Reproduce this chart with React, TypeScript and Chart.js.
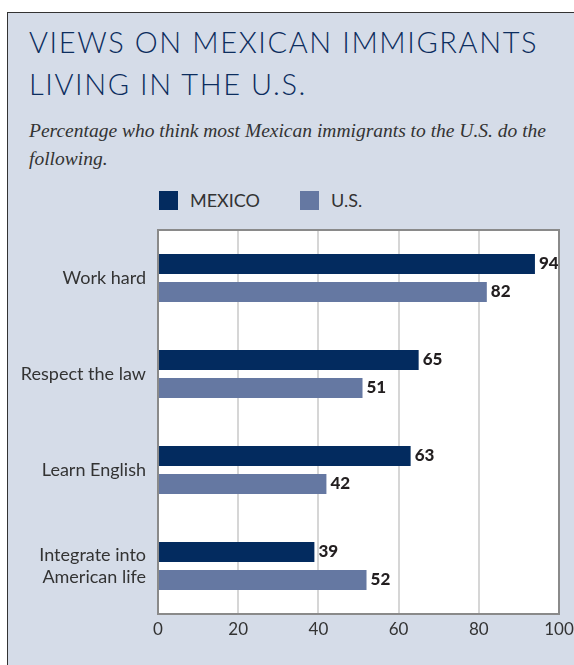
import React, { useEffect, useRef } from "react";
import { Chart, registerables } from "chart.js";

Chart.register(...registerables);

const categories: (string | string[])[] = [
  "Work hard",
  "Respect the law",
  "Learn English",
  ["Integrate into", "American life"],
];
const mexicoValues = [94, 65, 63, 39];
const usValues = [82, 51, 42, 52];
const seriesNames = ["MEXICO", "U.S."];
const xTicks = [0, 20, 40, 60, 80, 100];

const MEXICO_COLOR = "#032b5f";
const US_COLOR = "#6578a2";
const SANS = "Lato, 'Noto Sans', sans-serif";

const plotDecor = {
  id: "plotDecor",
  beforeDraw(chart: any) {
    const { ctx, chartArea: a } = chart;
    ctx.save();
    ctx.fillStyle = "#ffffff";
    ctx.fillRect(a.left, a.top, a.right - a.left, a.bottom - a.top);
    ctx.restore();
  },
  afterDraw(chart: any) {
    const { ctx, chartArea: a } = chart;
    ctx.save();
    ctx.strokeStyle = "#8a8a8a";
    ctx.lineWidth = 2;
    ctx.strokeRect(a.left, a.top, a.right - a.left, a.bottom - a.top);
    ctx.restore();
  },
  afterDatasetsDraw(chart: any) {
    const { ctx } = chart;
    ctx.save();
    ctx.font = `900 17px ${SANS}`;
    ctx.fillStyle = "#231f20";
    ctx.textBaseline = "middle";
    ctx.textAlign = "left";
    chart.data.datasets.forEach((ds: any, di: number) => {
      const meta = chart.getDatasetMeta(di);
      meta.data.forEach((bar: any, i: number) => {
        ctx.fillText(String(ds.data[i]), bar.x + 4, bar.y);
      });
    });
    ctx.restore();
  },
};

function BarChart() {
  const ref = useRef<HTMLCanvasElement>(null);
  useEffect(() => {
    if (!ref.current) return;
    const chart = new Chart(ref.current, {
      type: "bar",
      data: {
        labels: categories,
        datasets: [
          {
            label: seriesNames[0],
            data: mexicoValues,
            backgroundColor: MEXICO_COLOR,
            categoryPercentage: 0.583,
            barPercentage: 0.714,
          },
          {
            label: seriesNames[1],
            data: usValues,
            backgroundColor: US_COLOR,
            categoryPercentage: 0.583,
            barPercentage: 0.714,
          },
        ],
      },
      options: {
        indexAxis: "y",
        animation: false,
        responsive: false,
        maintainAspectRatio: false,
        layout: { padding: { top: 50, right: 15, left: 0, bottom: 0 } },
        plugins: {
          legend: { display: false },
          tooltip: { enabled: false },
        },
        scales: {
          x: {
            min: 0,
            max: 100,
            afterBuildTicks: (s: any) => {
              s.ticks = xTicks.map((v) => ({ value: v }));
            },
            grid: { color: "#d6d6d6", lineWidth: 2, drawTicks: false },
            border: { display: false },
            ticks: {
              padding: 5,
              color: "#333333",
              font: { family: SANS, size: 17 },
            },
            afterFit: (s: any) => {
              s.height = 51;
              s.paddingRight = 0;
              s.paddingLeft = 0;
            },
          },
          y: {
            grid: { display: false, drawTicks: false },
            border: { display: false },
            ticks: {
              padding: 12,
              color: "#333333",
              font: { family: SANS, size: 18, lineHeight: 1.25 },
            },
            afterFit: (s: any) => {
              s.width = 158;
            },
          },
        },
      },
      plugins: [plotDecor],
    });
    return () => chart.destroy();
  }, []);
  return (
    <canvas
      ref={ref}
      width={574}
      height={485}
      style={{ position: "absolute", left: 0, top: 180, width: 574, height: 485 }}
    />
  );
}

export default function App() {
  return (
    <div
      style={{
        position: "fixed",
        left: 0,
        top: 0,
        width: 574,
        height: 665,
        overflow: "hidden",
        background: "#ffffff",
      }}
    >
      <div
        style={{
          position: "absolute",
          left: 7,
          top: 12,
          width: 620,
          height: 700,
          background: "#d5dce8",
          borderLeft: "1.5px solid #333",
          borderTop: "1.5px solid #333",
        }}
      />
      <div
        style={{
          position: "absolute",
          left: 29,
          top: 21,
          fontFamily: SANS,
          fontWeight: 300,
          fontSize: 29,
          letterSpacing: 1.6,
          lineHeight: "42px",
          color: "#0c2d5e",
          whiteSpace: "nowrap",
        }}
      >
        VIEWS ON MEXICAN IMMIGRANTS
        <br />
        LIVING IN THE U.S.
      </div>
      <div
        style={{
          position: "absolute",
          left: 29,
          top: 117,
          width: 545,
          fontFamily: "'Liberation Serif', serif",
          fontStyle: "italic",
          fontSize: 19.5,
          lineHeight: "28px",
          color: "#333",
        }}
      >
        Percentage who think most Mexican immigrants to the U.S. do the following.
      </div>
      <div style={{ position: "absolute", left: 159, top: 189, display: "flex", alignItems: "center", fontFamily: SANS, fontSize: 18, color: "#333" }}>
        <span style={{ width: 19, height: 19, background: MEXICO_COLOR, display: "inline-block" }} />
        <span style={{ marginLeft: 12 }}>{seriesNames[0]}</span>
      </div>
      <div style={{ position: "absolute", left: 300, top: 189, display: "flex", alignItems: "center", fontFamily: SANS, fontSize: 18, color: "#333" }}>
        <span style={{ width: 19, height: 19, background: US_COLOR, display: "inline-block" }} />
        <span style={{ marginLeft: 12 }}>{seriesNames[1]}</span>
      </div>
      <BarChart />
    </div>
  );
}
